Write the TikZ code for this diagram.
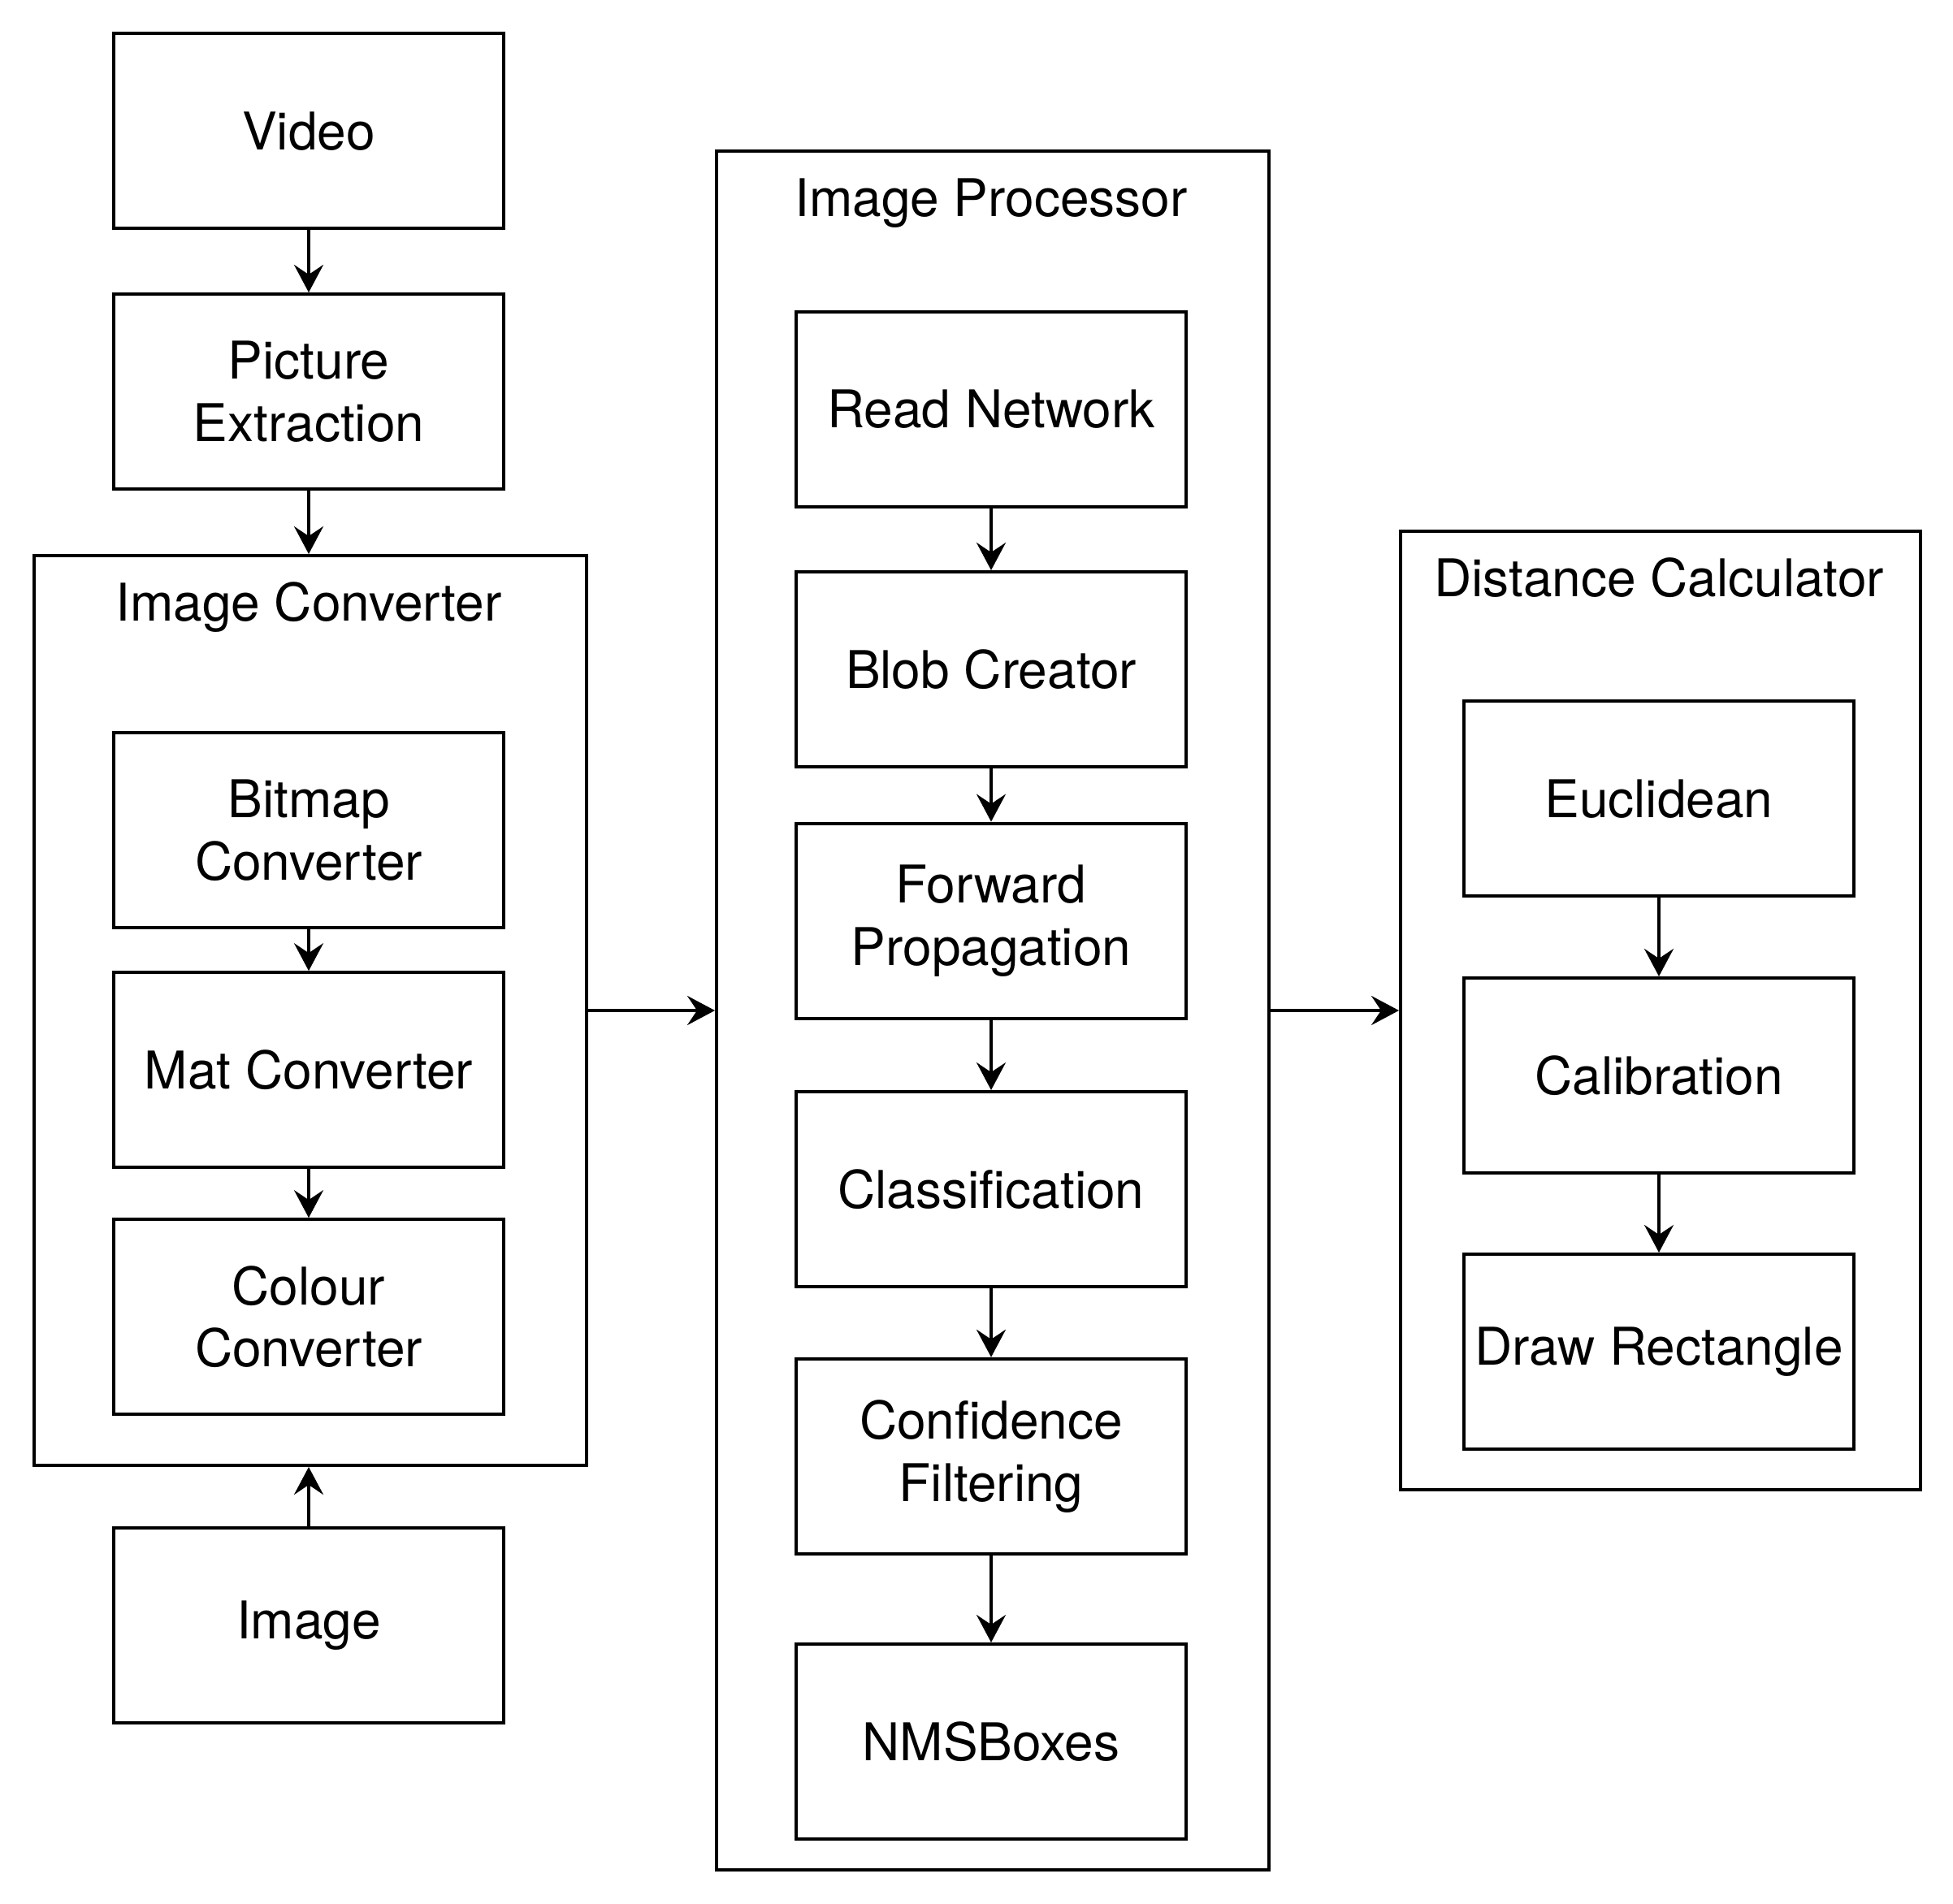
\documentclass[tikz,border=0pt]{standalone}
\usepackage{fontspec}
\setmainfont{TeX Gyre Heros}
\usetikzlibrary{arrows.meta}
\begin{document}
\begin{tikzpicture}[x=2pt,y=-2pt,
  lbl/.style={font=\fontsize{32}{38.4}\selectfont, align=center, inner sep=0pt},
  box/.style={lbl, draw, line width=2pt, minimum width=240pt, minimum height=120pt},
  group/.style={draw, line width=2pt, anchor=north west, inner sep=0pt},
  title/.style={lbl, anchor=base},
  arr/.style={line width=2pt, -{Stealth[length=17pt,width=18pt,inset=6pt]}}]
\useasboundingbox (0,0) rectangle (601,586);
% containers
\node[group, minimum width=340pt, minimum height=560pt] (ic) at (10,170.5) {};
\node[group, minimum width=340pt, minimum height=1058pt] (ip) at (220,46) {};
\node[group, minimum width=320pt, minimum height=590pt] (dc) at (430.5,163) {};
\node[title] (ict) at (95,191) {Image Converter};
\node[title] (ipt) at (305,66.5) {Image Processor};
\node[title] (dct) at (510.5,183.5) {Distance Calculator};
% left column
\node[box] (video) at (95,40.3) {Video};
\node[box] (pic) at (95,120.5) {Picture\\Extraction};
\node[box] (bmp) at (95,255.5) {Bitmap\\Converter};
\node[box] (mat) at (95,329.3) {Mat Converter};
\node[box] (col) at (95,405.3) {Colour\\Converter};
\node[box] (img) at (95,500.3) {Image};
% middle column
\node[box] (rn) at (305,126) {Read Network};
\node[box] (blob) at (305,206) {Blob Creator};
\node[box] (fp) at (305,283.4) {Forward\\Propagation};
\node[box] (cls) at (305,366) {Classification};
\node[box] (cf) at (305,448.2) {Confidence\\Filtering};
\node[box] (nms) at (305,536) {NMSBoxes};
% right column
\node[box] (euc) at (510.5,245.8) {Euclidean};
\node[box] (cal) at (510.5,331) {Calibration};
\node[box] (dr) at (510.5,416) {Draw Rectangle};
% connectors
\draw[arr] (video) -- (pic);
\draw[arr] (pic) -- (ic.north -| pic);
\draw[arr] (bmp) -- (mat);
\draw[arr] (mat) -- (col);
\draw[arr] (img) -- (ic.south -| img);
\draw[arr] (rn) -- (blob);
\draw[arr] (blob) -- (fp);
\draw[arr] (fp) -- (cls);
\draw[arr] (cls) -- (cf);
\draw[arr] (cf) -- (nms);
\draw[arr] (euc) -- (cal);
\draw[arr] (cal) -- (dr);
\draw[arr] (ic.east) -- (ip.west |- ic.east);
\draw[arr] (ip.east |- ic.east) -- (dc.west |- ic.east);
\end{tikzpicture}
\end{document}
